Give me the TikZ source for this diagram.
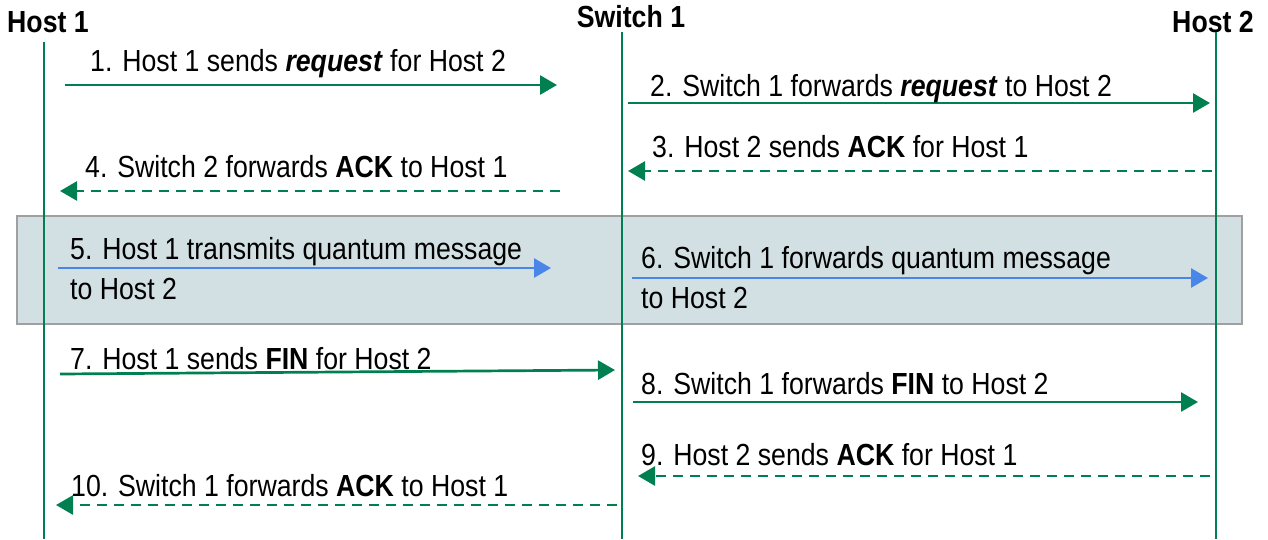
\documentclass[tikz,border=0pt]{standalone}
\usepackage{fontspec}
\setmainfont{Liberation Sans}[FakeStretch=0.875]
\usetikzlibrary{arrows.meta}
\definecolor{lgreen}{RGB}{0,128,80}
\definecolor{qblue}{RGB}{74,134,232}
\definecolor{boxfill}{RGB}{210,224,227}
\definecolor{boxline}{RGB}{160,160,160}
\begin{document}
\begin{tikzpicture}[x=1pt,y=-1pt,
  life/.style={draw=lgreen,line width=2.5pt},
  msg/.style={draw=lgreen,line width=2.7pt,-{Triangle[length=17pt,width=19pt]}},
  ack/.style={msg,dash pattern=on 10pt off 7pt},
  qmsg/.style={draw=qblue,line width=2.7pt,-{Triangle[length=17pt,width=19pt]}},
  lbl/.style={anchor=base west,inner sep=0pt,font=\fontsize{30.5}{40}\selectfont,align=left},
  hdr/.style={anchor=base,inner sep=0pt,font=\fontsize{30.5}{36}\selectfont\bfseries}]
\useasboundingbox (0,0) rectangle (1268,539);
% shaded box
\node[draw=boxline,fill=boxfill,line width=2pt,minimum width=1225pt,minimum height=108pt,inner sep=0pt,anchor=north west] (qbox) at (16,215) {};
% headers
\node[hdr] (h1) at (48,32) {Host 1};
\node[hdr] (s1) at (631,27) {Switch 1};
\node[hdr] (h2) at (1213,32) {Host 2};
% lifelines
\coordinate (h1t) at (44,42); \coordinate (h1b) at (44,539);
\coordinate (s1t) at (622,32); \coordinate (s1b) at (622,539);
\coordinate (h2t) at (1216,32); \coordinate (h2b) at (1216,539);
\draw[life] (h1t) -- (h1b);
\draw[life] (s1t) -- (s1b);
\draw[life] (h2t) -- (h2b);
% arrow endpoints
\coordinate (a1s) at (65,85);   \coordinate (a1e) at (557,85);
\coordinate (a2s) at (628,103); \coordinate (a2e) at (1210,103);
\coordinate (a3s) at (1212,171);\coordinate (a3e) at (628,171);
\coordinate (a4s) at (560,191); \coordinate (a4e) at (60,191);
\coordinate (a5s) at (58,268);  \coordinate (a5e) at (551,268);
\coordinate (a6s) at (632,278); \coordinate (a6e) at (1208,278);
\coordinate (a7s) at (60,374);  \coordinate (a7e) at (615,370);
\coordinate (a8s) at (633,402); \coordinate (a8e) at (1198,402);
\coordinate (a9s) at (1210,476);\coordinate (a9e) at (638,476);
\coordinate (a10s) at (617,505);\coordinate (a10e) at (56,505);
\draw[msg] (a1s) -- (a1e);
\draw[msg] (a2s) -- (a2e);
\draw[ack] (a3s) -- (a3e);
\draw[ack] (a4s) -- (a4e);
\draw[qmsg] (a5s) -- (a5e);
\draw[qmsg] (a6s) -- (a6e);
\draw[msg] (a7s) -- (a7e);
\draw[msg] (a8s) -- (a8e);
\draw[ack] (a9s) -- (a9e);
\draw[ack] (a10s) -- (a10e);
% labels
\node[lbl] (l1) at (90,71) {1. Host 1 sends \textbf{\textit{request}} for Host 2};
\node[lbl] (l2) at (650,96) {2. Switch 1 forwards \textbf{\textit{request}} to Host 2};
\node[lbl] (l3) at (652,157) {3. Host 2 sends \textbf{ACK} for Host 1};
\node[lbl] (l4) at (85,177) {4. Switch 2 forwards \textbf{ACK} to Host 1};
\node[lbl] (l5) at (70,299) {5. Host 1 transmits quantum message\\to Host 2};
\node[lbl] (l6) at (641,308) {6. Switch 1 forwards quantum message\\to Host 2};
\node[lbl] (l7) at (70,369) {7. Host 1 sends \textbf{FIN} for Host 2};
\node[lbl] (l8) at (641,394) {8. Switch 1 forwards \textbf{FIN} to Host 2};
\node[lbl] (l9) at (641,465) {9. Host 2 sends \textbf{ACK} for Host 1};
\node[lbl] (l10) at (71,496) {10. Switch 1 forwards \textbf{ACK} to Host 1};
\end{tikzpicture}
\end{document}
